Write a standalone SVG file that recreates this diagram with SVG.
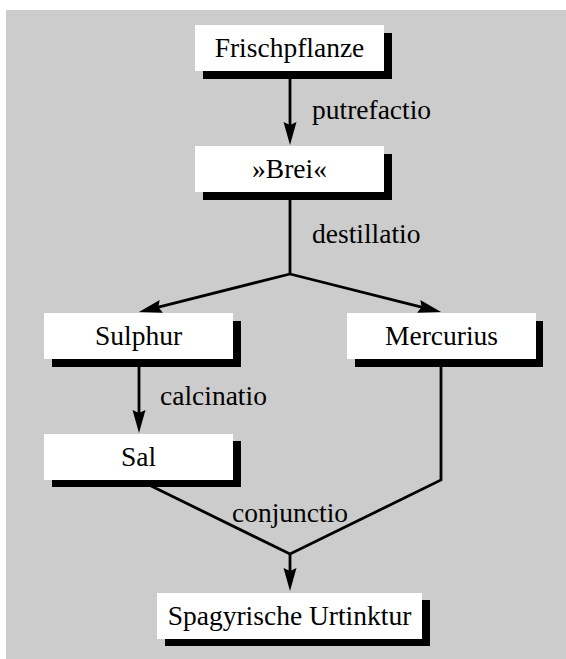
<svg xmlns="http://www.w3.org/2000/svg" width="566" height="659" viewBox="0 0 566 659">
<style>
.bg{fill:#cccccc}
.box{fill:#ffffff}
.shadow{fill:#000000}
.lbl{font-family:"Liberation Serif","Times New Roman",serif;font-size:27.5px;fill:#000}
.node{font-family:"Liberation Serif","Times New Roman",serif;font-size:27.5px;fill:#000;text-anchor:middle}
.edge{fill:none;stroke:#000;stroke-width:2.8}
</style>
<defs>
<marker id="ah" markerUnits="userSpaceOnUse" viewBox="-10 -8 27 16" refX="0" refY="0" markerWidth="27" markerHeight="16" orient="auto" overflow="visible">
<path d="M15,0 L-8,-6.5 L-5,0 L-8,6.5 Z" fill="#000"/>
</marker>
</defs>
<rect class="bg" x="6" y="10" width="560" height="649"/>
<g id="connectors">
<path class="edge" d="M290,71 L290,130" marker-end="url(#ah)"/>
<path class="edge" d="M290,192 L290,274"/>
<path class="edge" d="M290,274 L153.5,308.3" marker-end="url(#ah)"/>
<path class="edge" d="M290,274 L426.5,308.3" marker-end="url(#ah)"/>
<path class="edge" d="M139,359 L139,418" marker-end="url(#ah)"/>
<path class="edge" d="M139,480 L290,554 L441,480 L441,359"/>
<path class="edge" d="M290,554 L290,576" marker-end="url(#ah)"/>
<text class="lbl" x="312" y="119">putrefactio</text>
<text class="lbl" x="312" y="243">destillatio</text>
<text class="lbl" x="160" y="405">calcinatio</text>
<text class="lbl" x="290" y="522" text-anchor="middle">conjunctio</text>
</g>
<g id="frischpflanze">
<rect class="shadow" x="203" y="33" width="189" height="46"/>
<rect class="box" x="195" y="25" width="189" height="46"/>
<text class="node" x="289.5" y="57">Frischpflanze</text>
</g>
<g id="brei">
<rect class="shadow" x="203" y="154" width="189" height="46"/>
<rect class="box" x="195" y="146" width="189" height="46"/>
<text class="node" x="289.5" y="178">»Brei«</text>
</g>
<g id="sulphur">
<rect class="shadow" x="52" y="321" width="189" height="46"/>
<rect class="box" x="44" y="313" width="189" height="46"/>
<text class="node" x="138.5" y="345">Sulphur</text>
</g>
<g id="mercurius">
<rect class="shadow" x="355" y="321" width="188" height="46"/>
<rect class="box" x="347" y="313" width="189" height="46"/>
<text class="node" x="441.5" y="345">Mercurius</text>
</g>
<g id="sal">
<rect class="shadow" x="52" y="441" width="189" height="46"/>
<rect class="box" x="44" y="434" width="189" height="46"/>
<text class="node" x="138.5" y="466">Sal</text>
</g>
<g id="urtinktur">
<rect class="shadow" x="165" y="600" width="265" height="46"/>
<rect class="box" x="157" y="593" width="265" height="46"/>
<text class="node" x="289.5" y="625">Spagyrische Urtinktur</text>
</g>
</svg>
